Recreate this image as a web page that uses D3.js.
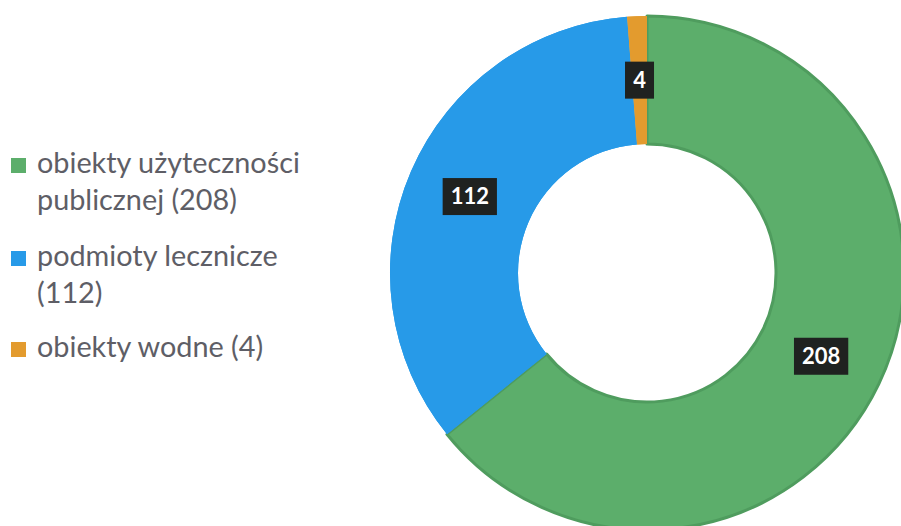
<!DOCTYPE html>
<html>
<head>
<meta charset="utf-8">
<script src="https://cdn.jsdelivr.net/npm/d3@7"></script>
<style>
  html, body { margin: 0; padding: 0; background: #ffffff; }
  svg { display: block; }
</style>
</head>
<body>
<svg id="chart" width="901" height="526"></svg>
<script>
// ---- data ----
const categories = ["obiekty użyteczności publicznej", "podmioty lecznicze", "obiekty wodne"];
const values = [208, 112, 4];
const legendLines = [["obiekty użyteczności", "publicznej (208)"], ["podmioty lecznicze", "(112)"], ["obiekty wodne (4)"]];
const colors = ["#5cae6b", "#279ae8", "#e39b2e"];
const strokes = ["#4f9c5e", "none", "none"];

const svg = d3.select("#chart");
const cx = 647, cy = 273, rOuter = 257, rInner = 129;

const data = categories.map((c, i) => ({ name: c, value: values[i], color: colors[i], stroke: strokes[i] }));

const pie = d3.pie().value(d => d.value).sort(null);
const arc = d3.arc().innerRadius(rInner).outerRadius(rOuter);
const arcs = pie(data);

const g = svg.append("g").attr("transform", `translate(${cx},${cy})`);
g.selectAll("path.slice").data(arcs).join("path")
  .attr("class", "slice")
  .attr("d", arc)
  .attr("fill", d => d.data.color)
  .attr("stroke", d => d.data.stroke)
  .attr("stroke-width", 3)
  .attr("stroke-linejoin", "round");
g.selectAll("path.slice2").data(arcs.filter(d => d.data.stroke === "none")).join("path")
  .attr("class", "slice2")
  .attr("d", arc)
  .attr("fill", d => d.data.color);

// labels
const lab = g.selectAll("g.lab").data(arcs).join("g")
  .attr("class", "lab")
  .attr("transform", d => `translate(${arc.centroid(d)})`);
lab.append("text")
  .attr("text-anchor", "middle")
  .attr("dy", "0.36em")
  .attr("font-family", "Lato, 'Open Sans', sans-serif")
  .attr("font-weight", "bold")
  .attr("font-size", 22)
  .attr("fill", "#ffffff")
  .text(d => d.data.value);
lab.each(function() {
  const t = d3.select(this).select("text");
  const bb = t.node().getBBox();
  const w = bb.width + 16, h = 37;
  d3.select(this).insert("rect", "text")
    .attr("x", -w / 2).attr("y", -h / 2)
    .attr("width", w).attr("height", h)
    .attr("fill", "#1f2220");
});

// legend
const legFont = "Lato, 'Open Sans', sans-serif";
const baselines = [[173, 210], [266, 303], [357]];
const leg = svg.append("g");
const textX = 37;
const probe = leg.append("text").attr("font-family", legFont).attr("font-size", 24).text(legendLines[0][0]);
const pw = probe.node().getComputedTextLength();
probe.remove();
const legSize = 24 * (263 / pw);

legendLines.forEach((lines, i) => {
  leg.append("rect")
    .attr("x", 11).attr("y", baselines[i][0] - 15)
    .attr("width", 15).attr("height", 15)
    .attr("fill", colors[i]);
  lines.forEach((ln, j) => {
    leg.append("text")
      .attr("x", textX).attr("y", baselines[i][j])
      .attr("font-family", legFont)
      .attr("font-size", legSize)
      .attr("fill", "#5e5e66")
      .text(ln);
  });
});
</script>
</body>
</html>
